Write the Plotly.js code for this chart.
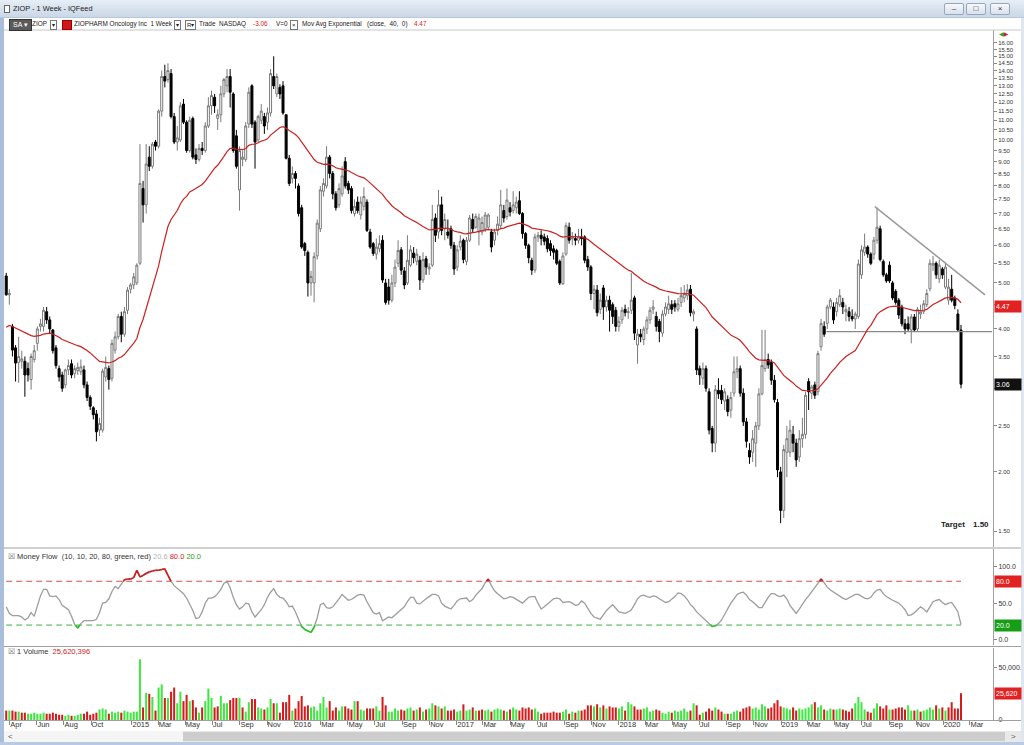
<!DOCTYPE html>
<html>
<head>
<meta charset="utf-8">
<title>ZIOP - 1 Week - IQFeed</title>
<script src="https://cdn.plot.ly/plotly-3.0.1.min.js"></script>
<style>
html,body{margin:0;padding:0;background:#fff;}
#wrap{position:relative;width:1024px;height:745px;overflow:hidden;font-family:"Liberation Sans",Arial,sans-serif;}
#chart{position:absolute;left:0;top:0;width:1024px;height:745px;}
#titlebar{position:absolute;left:0;top:0;width:1024px;height:17px;background:linear-gradient(#e7eef6,#cad7e7);border-bottom:1px solid #b8c7da;z-index:3;}
#titlebar .ttl{position:absolute;left:13px;top:0;line-height:17px;font-size:8px;color:#1a1a1a;white-space:nowrap;transform:scaleX(0.92);transform-origin:0 50%;}
#titlebar .ico{position:absolute;left:4px;top:5px;width:4px;height:6px;border:1px solid #666;background:#fff;}
.wbtn{position:absolute;top:3px;width:18px;height:10px;border:1px solid #98a8bb;border-radius:2px;background:linear-gradient(#f6f8fb,#d9e1ec);font-size:8px;line-height:10px;text-align:center;color:#333;}
#toolbar{position:absolute;left:0;top:18px;width:1024px;height:12px;z-index:3;font-size:8px;color:#1a1a1a;}
#toolbar span{position:absolute;top:0;line-height:12px;white-space:nowrap;}
#toolbar .t{transform:scaleX(0.8);transform-origin:0 50%;}
#toolbar .bx{top:2px;height:8px;line-height:8px;border:1px solid #777;background:#fff;font-size:6px;padding:0 1px;}
#toolbar .dk{top:1px;height:10px;line-height:10px;background:#5a5a5a;color:#fff;padding:0 3px;border:1px solid #333;font-size:7px;}
#toolbar .rd{color:#d42020;}
#toolbar .sq{top:2px;width:8px;height:8px;background:#d01818;border:1px solid #900;}
</style>
</head>
<body>
<div id="wrap">
  <div id="chart"></div>
  <div id="titlebar">
    <div class="ico"></div>
    <span class="ttl">ZIOP - 1 Week - IQFeed</span>
    <div class="wbtn" style="left:944px">&#8211;</div>
    <div class="wbtn" style="left:966px">&#9633;</div>
    <div class="wbtn" style="left:990px">&#215;</div>
  </div>
  <div id="toolbar">
    <span class="dk" style="left:9px">SA &#9662;</span>
    <span class="t" style="left:32px">ZIOP</span>
    <span class="bx" style="left:50px">&#9662;</span>
    <span class="sq" style="left:62px"></span>
    <span class="t" style="left:74px">ZIOPHARM Oncology Inc&nbsp; 1 Week</span>
    <span class="bx" style="left:174px">&#9662;</span>
    <span class="bx" style="left:185px">R&#9662;</span>
    <span class="t" style="left:199px">Trade&nbsp; NASDAQ</span>
    <span class="t rd" style="left:253px">-3.06</span>
    <span class="t" style="left:276px">V=0</span>
    <span class="bx" style="left:290px">&#215;</span>
    <span class="t" style="left:302px">Mov Avg Exponential</span>
    <span class="t" style="left:367px">(close,&nbsp; 40,&nbsp; 0)</span>
    <span class="t rd" style="left:414px">4.47</span>
  </div>
</div>
<script>
// ---------------- DATA ----------------
// weekly bars, first week starting Monday 2014-03-24; rows are [open, high, low, close]
const firstWeek = '2014-03-24';

const ohlc2014 = [
[5.17,5.25,4.70,4.72],[4.72,4.85,4.50,4.75],[4.05,4.10,3.50,3.61],[3.65,3.70,3.10,3.39],[3.40,3.85,3.08,3.50],
[3.42,3.60,3.30,3.46],[3.42,3.50,2.88,3.20],[3.30,3.40,3.10,3.20],[3.13,3.55,2.98,3.50],[3.45,3.70,3.40,3.60],
[3.73,4.05,3.60,4.00],[4.05,4.20,3.95,4.10],[4.05,4.45,3.95,4.38],[4.35,4.45,4.10,4.18],[4.18,4.25,3.90,4.00],
[3.98,4.00,3.55,3.60],[3.65,3.70,3.30,3.35],[3.30,3.35,3.10,3.17],[3.20,3.25,2.95,3.00],[3.05,3.30,3.00,3.28],
[3.28,3.45,3.20,3.35],[3.38,3.45,3.15,3.20],[3.22,3.35,3.15,3.30],[3.27,3.40,3.20,3.32],[3.25,3.45,3.20,3.33],
[3.28,3.35,3.00,3.05],[3.05,3.10,2.82,2.87],[2.87,2.90,2.70,2.75],[2.73,2.75,2.58,2.64],[2.65,2.70,2.32,2.43],
[2.45,2.60,2.38,2.53],[2.45,3.30,2.42,3.26],[3.17,3.50,3.10,3.32],[3.30,3.35,2.98,3.13],[3.15,3.80,3.10,3.73],
[3.61,3.95,3.55,3.85],[3.85,4.30,3.80,4.25],[4.25,4.35,3.75,3.90],[3.90,4.45,3.85,4.35],[4.38,4.90,4.30,4.83],
[4.85,5.00,4.75,4.95]
];
const ohlc2015 = [
[4.95,5.25,4.85,5.15],[5.00,5.50,4.95,5.45],[5.50,9.80,5.45,8.10],[7.90,8.20,6.70,7.30],[7.30,9.80,7.00,8.90],
[9.20,9.70,8.60,8.80],[8.80,9.90,8.70,9.80],[9.90,10.0,9.50,9.70],[9.70,11.6,9.60,11.5],[11.5,14.0,11.2,13.6],
[13.6,14.4,12.9,13.3],[13.4,14.5,13.2,14.0],[13.8,14.1,11.1,11.2],[11.2,11.4,9.80,9.90],[9.90,10.7,9.50,10.1],
[10.0,12.0,9.90,11.8],[11.9,12.2,10.8,10.9],[10.9,11.0,9.40,9.50],[9.50,11.2,9.40,11.0],[11.1,11.2,9.10,9.20],
[9.30,9.60,8.90,9.10],[9.10,9.80,9.00,9.60],[9.60,9.90,9.30,9.50],[9.50,10.9,9.40,10.7],[10.7,12.3,10.6,11.8],
[11.8,12.7,11.3,12.4],[12.3,12.5,11.4,11.8],[11.1,11.6,10.5,11.3],[11.3,13.0,10.9,12.5],[12.5,13.5,12.3,13.4],
[13.0,14.1,12.6,13.6],[13.6,14.1,11.7,12.6],[12.5,12.6,9.40,9.50],[10.2,10.5,8.70,8.80],[7.85,9.70,7.10,9.50],
[9.10,9.50,8.80,9.20],[9.10,10.9,9.00,10.7],[10.8,12.9,10.6,12.6],[13.0,13.1,10.6,10.8],[10.9,11.0,8.70,9.90],
[10.0,11.3,9.90,11.2],[11.0,11.9,10.8,11.5],[11.2,11.4,10.3,10.7],[10.9,11.7,10.5,11.4],[11.4,14.1,11.2,13.8],
[13.6,15.0,12.8,13.0],[12.5,13.8,12.3,13.6],[12.9,13.1,12.2,12.5],[13.0,13.3,11.3,11.4],[11.3,11.3,9.10,9.15],
[9.15,9.30,8.00,8.10],[8.30,8.80,8.10,8.50]
];
const ohlc2016 = [
[8.50,8.60,7.90,8.30],[8.00,8.10,6.90,7.00],[7.20,7.30,5.90,5.95],[6.05,6.10,5.70,5.85],[5.80,5.85,4.68,5.00],
[5.00,5.30,4.70,5.16],[5.00,5.80,4.55,5.68],[5.70,6.80,5.60,6.68],[6.50,8.00,6.40,7.85],[7.80,8.30,7.60,8.10],
[8.00,9.70,7.90,9.20],[9.20,9.30,8.30,8.50],[8.50,8.60,7.50,7.70],[7.70,7.80,7.10,7.20],[7.30,8.10,7.20,7.90],
[7.70,8.80,7.60,8.40],[9.00,9.20,7.90,8.00],[8.10,8.20,7.70,7.85],[7.90,8.00,7.00,7.10],[7.00,7.50,6.90,7.25],
[7.40,7.60,7.00,7.10],[6.95,7.60,6.80,7.40],[7.25,7.95,7.10,7.60],[7.40,7.50,6.40,6.45],[6.40,6.50,5.90,5.95],
[6.05,6.10,5.70,5.77],[5.75,6.20,5.60,5.95],[5.90,6.30,5.80,6.05],[6.15,6.30,5.00,5.07],[5.00,5.10,4.50,4.55],
[4.90,5.10,4.50,4.60],[4.60,5.20,4.55,5.00],[5.00,5.60,4.90,5.40],[5.50,6.15,5.40,5.85],[5.87,5.95,5.20,5.32],
[5.30,5.40,4.85,4.95],[5.00,6.30,4.95,5.58],[5.45,6.00,5.40,5.87],[5.78,5.95,5.50,5.65],[5.55,5.90,5.45,5.75],
[5.58,5.70,4.83,5.07],[5.07,5.80,5.00,5.60],[5.62,5.70,5.20,5.40],[5.35,5.50,5.20,5.40],[5.45,7.30,5.40,6.80],
[6.85,7.00,6.10,6.30],[6.40,7.85,6.20,7.30],[7.30,7.60,6.30,6.45],[6.50,7.00,6.15,6.80],[6.40,6.80,6.20,6.30],
[6.50,6.60,5.90,6.00],[6.00,6.10,5.20,5.35]
];
const ohlc2017 = [
[5.40,6.00,5.30,5.87],[5.95,6.30,5.85,6.12],[6.15,6.20,5.50,5.60],[5.55,6.25,5.45,6.15],[6.15,6.95,6.10,6.85],
[6.80,7.00,6.40,6.50],[6.55,7.00,6.50,6.90],[6.40,7.00,6.00,6.85],[6.40,6.90,6.30,6.70],[6.50,7.05,6.40,6.95],
[6.55,7.00,6.45,6.95],[6.40,6.50,5.80,5.95],[6.15,6.50,6.00,6.40],[6.45,6.90,6.30,6.65],[6.60,7.85,6.50,7.30],
[7.10,7.30,6.70,6.85],[6.90,7.90,6.80,7.47],[7.20,7.40,6.90,7.05],[7.10,7.80,7.00,7.30],[7.20,7.60,7.00,7.40],
[7.45,7.80,6.95,7.00],[7.00,7.05,6.20,6.35],[6.35,6.40,5.90,6.00],[6.00,6.05,5.50,5.65],[5.58,5.65,5.20,5.32],
[5.32,6.35,5.25,6.25],[6.25,6.40,6.10,6.30],[6.30,6.45,6.00,6.20],[6.25,6.35,6.00,6.12],[6.20,6.30,5.80,5.90],
[6.05,6.15,5.70,5.85],[5.90,6.00,5.60,5.80],[5.85,5.90,5.45,5.50],[5.55,5.60,4.95,5.00],[4.98,5.80,4.95,5.70],
[5.75,6.70,5.70,6.60],[6.55,6.70,6.05,6.15],[6.20,6.40,6.00,6.25],[6.20,6.35,6.00,6.15],[6.15,6.50,6.05,6.25],
[6.25,6.50,6.00,6.20],[6.25,6.30,5.50,5.58],[5.60,5.70,5.30,5.40],[5.40,5.45,4.60,4.75],[4.75,4.95,4.40,4.85],
[4.83,4.95,4.25,4.33],[4.40,4.75,4.30,4.60],[4.88,4.95,4.18,4.45],[4.45,4.70,4.35,4.60],[4.60,4.70,3.95,4.38],
[4.50,4.55,4.10,4.25],[4.38,4.45,3.95,4.05]
];
const ohlc2018 = [
[4.05,4.25,3.95,4.15],[4.18,4.45,4.10,4.38],[4.40,4.50,4.25,4.33],[4.33,4.45,4.20,4.35],[4.38,5.25,4.30,4.60],
[4.65,4.70,3.79,3.92],[3.70,4.00,3.38,3.90],[3.90,4.00,3.75,3.85],[3.80,4.05,3.70,4.00],[4.00,4.25,3.90,4.18],
[4.18,4.45,4.10,4.38],[4.40,4.60,4.30,4.45],[4.25,4.35,3.95,4.05],[4.15,4.20,3.75,3.95],[3.92,4.38,3.85,4.30],
[4.30,4.55,4.25,4.45],[4.40,4.70,4.30,4.52],[4.50,4.60,4.30,4.40],[4.52,4.60,4.35,4.45],[4.40,4.65,4.35,4.52],
[4.55,4.90,4.45,4.70],[4.65,4.95,4.55,4.75],[4.70,4.97,4.60,4.83],[4.85,4.95,4.25,4.33],[4.30,4.40,4.15,4.35],
[4.00,4.05,3.20,3.28],[3.30,3.35,3.05,3.20],[3.15,3.40,3.05,3.30],[3.30,3.35,2.95,3.00],[2.95,3.00,2.40,2.45],
[2.47,2.50,2.20,2.30],[2.30,3.05,2.20,2.98],[2.97,3.15,2.85,2.92],[2.97,3.05,2.78,2.84],[2.82,3.00,2.70,2.95],
[2.84,2.90,2.62,2.68],[2.70,2.95,2.60,2.87],[2.93,3.50,2.88,3.25],[3.25,3.50,3.15,3.30],[3.30,3.35,2.88,2.93],
[2.93,3.00,2.50,2.55],[2.55,2.60,2.25,2.32],[2.22,2.30,2.08,2.15],[2.20,2.45,2.10,2.35],[2.30,2.55,2.05,2.50],
[2.50,3.00,2.45,2.92],[2.92,3.98,2.90,3.35],[3.30,3.98,3.25,3.45],[3.45,3.55,3.30,3.36],[3.40,3.45,3.05,3.12],
[3.12,3.20,2.80,2.84],[2.80,2.85,1.95,2.02],[2.00,2.05,1.56,1.66]
];
const ohlc2019 = [
[1.66,2.28,1.60,2.23],[2.20,2.50,1.95,2.35],[2.20,2.57,2.15,2.45],[2.40,2.50,2.20,2.30],[2.30,2.35,2.05,2.12],
[2.15,2.45,2.10,2.35],[2.35,2.60,2.25,2.40],[2.40,2.95,2.35,2.90],[3.10,3.15,2.70,2.95],[2.93,3.05,2.85,3.02],
[3.05,3.10,2.85,2.90],[2.95,3.60,2.90,3.55],[3.67,4.20,3.60,4.11],[4.05,4.15,3.85,3.90],[4.11,4.50,4.00,4.45],
[4.45,4.65,4.40,4.60],[4.45,4.55,4.10,4.18],[4.35,4.65,4.25,4.55],[4.50,4.85,4.45,4.70],[4.55,4.65,4.30,4.45],
[4.35,4.50,4.15,4.40],[4.35,4.45,4.15,4.25],[4.25,4.40,4.15,4.20],[4.20,4.35,4.00,4.30],[4.25,5.60,4.20,5.48],
[5.20,6.00,5.10,5.87],[5.80,6.35,5.70,5.95],[5.95,6.00,5.65,5.75],[5.75,5.80,5.45,5.50],[5.75,6.25,5.60,6.15],
[6.15,7.20,6.05,6.55],[6.50,6.60,5.55,5.60],[5.55,5.60,5.15,5.20],[5.20,5.25,5.00,5.05],[5.45,5.55,5.00,5.05],
[5.00,5.05,4.60,4.65],[4.80,4.85,4.50,4.55],[4.60,4.65,4.20,4.28],[4.45,4.50,4.05,4.10],[4.10,4.20,3.90,4.00],
[4.10,4.25,3.95,4.00],[3.98,4.30,3.73,4.24],[4.24,4.30,3.95,3.98],[4.00,4.45,3.95,4.40],[4.30,4.50,4.20,4.35],
[4.35,4.60,4.30,4.52],[4.50,4.85,4.45,4.75],[4.86,5.60,4.80,5.50],[5.45,5.70,5.30,5.50],[5.50,5.55,5.10,5.20],
[5.10,5.60,5.00,5.45],[5.35,5.40,5.10,5.20]
];
const ohlc2020 = [
[4.90,5.50,4.85,5.40],[4.60,5.10,4.50,4.90],[4.85,5.20,4.55,4.60],[4.65,4.70,4.40,4.48],[4.30,4.40,3.95,3.98],
[3.98,4.08,3.00,3.06]
];

// weekly volume, millions of shares (axis is labelled in thousands)
const volumeM = [
9,9,9,8,8,7,7,6,6,7, 6,6,7,6,6,7,6,5,5,4, 5,4,4,5,6,6,8,5,6,7, 10,11,10,6,8,7,8,7,9,8,
7,8,8,58,12,26,25,22,9,31, 34,21,21,27,31,16,27,18,24,18, 19,12,7,12,18,30,21,12,13,23,
16,16,19,21,21,21,12,8,17,20, 20,12,11,10,12,20,16,16,7,17, 17,24,9,11,18,23,13,14,12,13,
9,16,22,12,18,9,12,9,13,13, 11,10,18,18,10,9,11,11,11,13, 9,22,14,8,8,11,9,10,9,11,
12,9,10,12,8,10,11,16,14,13, 11,13,9,9,10,8,9,15,9,10, 12,9,9,10,9,10,8,10,11,10,
9,8,10,12,10,9,12,11,12,10, 11,8,6,7,7,7,8,7,7,8, 10,6,8,7,9,9,10,14,14,13,
15,12,14,11,13,12,12,11,13,9, 17,15,13,10,10,11,12,8,9,10, 9,7,6,8,7,9,8,9,11,8,
9,16,14,5,7,8,11,9,12,10, 8,6,6,6,8,9,8,11,12,13, 11,12,10,15,13,11,12,16,19,13,
12,11,10,12,9,11,10,11,12,15, 17,12,14,10,9,11,10,10,11,10, 9,8,11,16,22,17,10,8,7,11,
16,13,11,14,10,10,11,12,12,10, 14,9,9,10,8,9,10,12,10,14, 11,12,9,12,17,11,11,25.62
];

// Money Flow indicator (10,10,20,80)
const moneyFlow = [
45,36,33,33,33,31,27,30,37,32, 45,60,69,69,60,59,60,55,47,44, 41,32,21,16,22,26,26,26,26,28,
37,50,51,56,66,73,70,76,82,83, 83,85,95,86,88,91,93,94,95,95, 96,97,88,80,74,70,67,63,57,49,
40,29,30,38,50,57,57,59,63,69, 77,80,71,58,48,42,45,50,49,38, 31,36,41,48,58,65,70,62,58,57,
52,45,46,38,28,18,14,12,10,17, 30,48,50,44,43,45,50,56,62,58, 54,55,58,61,62,61,52,44,37,35,
37,26,29,31,30,34,38,42,45,52, 58,58,50,49,53,56,59,62,62,60, 50,46,44,42,47,53,56,57,57,52,
55,61,65,70,78,83,74,67,63,59, 56,57,59,58,55,53,50,54,58,59, 59,50,42,45,49,53,56,57,56,51,
51,52,50,47,48,53,50,42,36,31, 29,28,34,40,44,48,43,38,37,36, 38,41,48,56,60,61,59,58,60,59,
56,54,51,52,55,59,64,63,60,55, 48,44,38,34,30,26,22,18,19,22, 27,35,43,50,56,62,64,65,61,55,
52,48,44,44,52,58,63,63,60,59, 61,56,47,41,36,42,49,55,60,66, 72,77,83,78,72,68,65,62,59,57,
55,57,59,62,62,59,57,56,58,64, 68,69,63,59,56,54,52,50,46,41, 33,34,37,41,45,42,38,45,52,54,
55,51,48,50,51,45,38,20.6
];

const emaPeriod = 40;          // Mov Avg Exponential (close, 40, 0)
const emaSeed = 4.0;           // EMA level at the left edge of the chart
const emaLastLabel = '4.47';
const lastPriceLabel = '3.06';
const mfiUpper = 80, mfiLower = 20;
const lastVolumeLabel = '25,620';
const volumeHeader = '25,620,396';
const targetPrice = 1.50;
const supportLevel = 3.95;
const supportDates = ['2019-04-13', '2020-04-20'];
const trendDates = ['2019-07-31', '2020-04-04'];
const trendPrices = [7.24, 4.72];

const xTickDates = ['2014-04-01','2014-06-01','2014-08-01','2014-10-01',
 '2015-01-01','2015-03-01','2015-05-01','2015-07-01','2015-09-01','2015-11-01',
 '2016-01-01','2016-03-01','2016-05-01','2016-07-01','2016-09-01','2016-11-01',
 '2017-01-01','2017-03-01','2017-05-01','2017-07-01','2017-09-01','2017-11-01',
 '2018-01-01','2018-03-01','2018-05-01','2018-07-01','2018-09-01','2018-11-01',
 '2019-01-01','2019-03-01','2019-05-01','2019-07-01','2019-09-01','2019-11-01',
 '2020-01-01','2020-03-01'];
const xTickLabels = ['Apr','Jun','Aug','Oct',
 '2015','Mar','May','Jul','Sep','Nov',
 '2016','Mar','May','Jul','Sep','Nov',
 '2017','Mar','May','Jul','Sep','Nov',
 '2018','Mar','May','Jul','Sep','Nov',
 '2019','Mar','May','Jul','Sep','Nov',
 '2020','Mar'];
// price levels with a tick; the ones hidden behind the value tags carry no label
const priceTickVals = [1.5,2,2.5,3,3.5,4,4.5,5,5.5,6,6.5,7,7.5,8,8.5,9,9.5,10,10.5,11,11.5,12,12.5,13,13.5,14,14.5,15,15.5,16];
const priceTickLabels = ['1.50','2.00','2.50','','3.50','4.00','','5.00','5.50','6.00','6.50',
 '7.00','7.50','8.00','8.50','9.00','9.50','10.00','10.50','11.00','11.50','12.00','12.50','13.00',
 '13.50','14.00','14.50','15.00','15.50','16.00'];
const mfiTickVals = [0, 50, 100];
const mfiTickLabels = ['0.0','50.0','100.0'];
const volTickVals = [0, 50];
const volTickLabels = ['0','50,000.'];
const xRange = ['2014-03-19', '2020-04-22'];
const priceRange = [1.39, 17.04];
const mfiRange = [-7.3, 124.2];
const volRange = [0, 68.8];

// ---------------- BUILD ----------------
const FONT = '"Liberation Sans", Arial, sans-serif';
const ohlc = [].concat(ohlc2014, ohlc2015, ohlc2016, ohlc2017, ohlc2018, ohlc2019, ohlc2020);
const open = ohlc.map(r => r[0]), high = ohlc.map(r => r[1]), low = ohlc.map(r => r[2]), close = ohlc.map(r => r[3]);
const N = close.length;
const DAY = 86400000;
const t0 = Date.parse(firstWeek + 'T00:00:00Z');
const fmt = ms => new Date(ms).toISOString().slice(0, 19).replace('T', ' ');
const weekMs = close.map((_, i) => t0 + i * 7 * DAY);
const dates = weekMs.map(fmt);

const kEma = 2 / (emaPeriod + 1);
let prevEma = emaSeed;
const ema = close.map(c => (prevEma = prevEma + kEma * (c - prevEma)));

const volColors = close.map((c, i) => (i === 0 ? c >= open[0] : c >= close[i - 1]) ? '#3ee83e' : '#d41c1c');

function zone(level, above) {
  const xs = [], ys = [];
  for (let i = 0; i < N - 1; i++) {
    const a = moneyFlow[i], b = moneyFlow[i + 1];
    const inA = above ? a >= level : a <= level;
    const inB = above ? b >= level : b <= level;
    if (!inA && !inB) continue;
    const tA = inA ? 0 : (level - a) / (b - a);
    const tB = inB ? 1 : (level - a) / (b - a);
    const span = weekMs[i + 1] - weekMs[i];
    xs.push(fmt(weekMs[i] + tA * span), fmt(weekMs[i] + tB * span), null);
    ys.push(a + tA * (b - a), a + tB * (b - a), null);
  }
  return { xs, ys };
}
const redZone = zone(mfiUpper, true);
const greenZone = zone(mfiLower, false);

const px = x => x / 1024;
const py = y => 1 - y / 745;

const traces = [
  { type: 'bar', x: dates, y: volumeM, xaxis: 'x', yaxis: 'y3', marker: { color: volColors, line: { width: 0 } }, hoverinfo: 'skip' },
  { type: 'scatter', mode: 'lines', x: [dates[0], dates[N - 1]], y: [mfiUpper, mfiUpper], xaxis: 'x', yaxis: 'y2', line: { color: '#d25050', width: 1, dash: '6px,4px' }, hoverinfo: 'skip' },
  { type: 'scatter', mode: 'lines', x: [dates[0], dates[N - 1]], y: [mfiLower, mfiLower], xaxis: 'x', yaxis: 'y2', line: { color: '#3cb043', width: 1, dash: '6px,4px' }, hoverinfo: 'skip' },
  { type: 'scatter', mode: 'lines', x: dates, y: moneyFlow, xaxis: 'x', yaxis: 'y2', line: { color: '#9d9d9d', width: 1.3 }, hoverinfo: 'skip' },
  { type: 'scatter', mode: 'lines', x: redZone.xs, y: redZone.ys, xaxis: 'x', yaxis: 'y2', connectgaps: false, line: { color: '#d01818', width: 1.6 }, hoverinfo: 'skip' },
  { type: 'scatter', mode: 'lines', x: greenZone.xs, y: greenZone.ys, xaxis: 'x', yaxis: 'y2', connectgaps: false, line: { color: '#22c822', width: 1.6 }, hoverinfo: 'skip' },
  { type: 'scatter', mode: 'lines', x: supportDates, y: [supportLevel, supportLevel], xaxis: 'x', yaxis: 'y', line: { color: '#8a8a8a', width: 1.2 }, hoverinfo: 'skip' },
  { type: 'scatter', mode: 'lines', x: trendDates, y: trendPrices, xaxis: 'x', yaxis: 'y', line: { color: '#9a9a9a', width: 1.5 }, hoverinfo: 'skip' },
  { type: 'candlestick', x: dates, open: open, high: high, low: low, close: close, xaxis: 'x', yaxis: 'y',
    increasing: { line: { color: '#7a7a7a', width: 1 }, fillcolor: '#ffffff' },
    decreasing: { line: { color: '#000000', width: 1 }, fillcolor: '#000000' },
    whiskerwidth: 0, hoverinfo: 'none' },
  { type: 'scatter', mode: 'lines', x: dates, y: ema, xaxis: 'x', yaxis: 'y', line: { color: '#cc2020', width: 1.2 }, hoverinfo: 'skip' }
];

const tickFont = { size: 7, color: '#333', family: FONT };
function tag(text, yref, y, bg) {
  return { xref: 'paper', x: px(994), xanchor: 'left', yref: yref, y: y, yanchor: 'middle', text: text,
    showarrow: false, bgcolor: bg, font: { color: '#fff', size: 7, family: FONT }, borderpad: 1, width: 24, height: 9, align: 'left' };
}
const annotations = [
  tag(emaLastLabel, 'y', Math.log10(parseFloat(emaLastLabel)), '#e02222'),
  tag(lastPriceLabel, 'y', Math.log10(parseFloat(lastPriceLabel)), '#111111'),
  tag(mfiUpper.toFixed(1), 'y2', mfiUpper, '#e02222'),
  tag(mfiLower.toFixed(1), 'y2', mfiLower, '#169e16'),
  tag(lastVolumeLabel, 'y3', volumeM[N - 1], '#e02222'),
  { xref: 'paper', x: px(953), xanchor: 'center', yref: 'y', y: Math.log10(targetPrice), yanchor: 'bottom', text: '<b>Target</b>', showarrow: false, font: { size: 8, color: '#222', family: FONT } },
  { xref: 'paper', x: px(991), xanchor: 'right', yref: 'y', y: Math.log10(targetPrice), yanchor: 'bottom', text: '<b>' + targetPrice.toFixed(2) + '</b>', showarrow: false, font: { size: 8, color: '#222', family: FONT } },
  { xref: 'paper', x: px(6), xanchor: 'left', yref: 'paper', y: py(556), yanchor: 'middle', showarrow: false, font: { size: 7.5, color: '#333', family: FONT },
    text: '<span style="color:#777">☒</span> Money Flow  (10, 10, 20, 80, green, red) <span style="color:#b4b4b4">' + moneyFlow[N - 1].toFixed(1) + '</span> <span style="color:#d42020">' + mfiUpper.toFixed(1) + '</span> <span style="color:#1e9e1e">' + mfiLower.toFixed(1) + '</span>' },
  { xref: 'paper', x: px(6), xanchor: 'left', yref: 'paper', y: py(651), yanchor: 'middle', showarrow: false, font: { size: 7.5, color: '#333', family: FONT },
    text: '<span style="color:#777">☒</span> 1 Volume  <span style="color:#d42020">' + volumeHeader + '</span>' },
  { xref: 'paper', x: px(1004), xanchor: 'center', yref: 'paper', y: py(34), yanchor: 'middle', showarrow: false, font: { size: 6, family: 'DejaVu Sans' },
    text: '<span style="color:#2a9d2a">◀</span><span style="color:#d42020">▶</span>' },
  { xref: 'paper', x: px(10), xanchor: 'center', yref: 'paper', y: py(736.5), yanchor: 'middle', showarrow: false, text: '&lt;', font: { size: 8, color: '#555', family: FONT } },
  { xref: 'paper', x: px(1013), xanchor: 'center', yref: 'paper', y: py(736.5), yanchor: 'middle', showarrow: false, text: '&gt;', font: { size: 8, color: '#555', family: FONT } }
];

const hline = (y, color) => ({ type: 'line', xref: 'paper', yref: 'paper', x0: px(4), x1: px(1021), y0: py(y), y1: py(y), line: { color: color, width: 1 } });
const rect = (x0, y0, x1, y1, fill) => ({ type: 'rect', xref: 'paper', yref: 'paper', x0: px(x0), x1: px(x1), y0: py(y1), y1: py(y0), fillcolor: fill, line: { width: 0 }, layer: 'above' });
const shapes = [
  hline(30, '#c8c8c8'),
  hline(548, '#a0a0a0'),
  hline(646.5, '#a0a0a0'),
  hline(720.5, '#a0a0a0'),
  { type: 'line', xref: 'paper', yref: 'y', x0: px(4), x1: px(993), y0: Math.log10(targetPrice), y1: Math.log10(targetPrice), line: { color: '#8a8a8a', width: 1, dash: 'dot' } },
  rect(4, 731, 1021, 742, '#e9e9e9'),
  rect(4, 731, 183, 742, '#f5f5f5'),
  rect(183, 732, 1005, 741, '#cdcdcd'),
  rect(0, 17, 4, 745, '#a9bedb'),
  rect(1021, 17, 1024, 745, '#dfe6f0'),
  rect(0, 742, 1024, 745, '#b9cbe2')
];

const yBase = { side: 'right', anchor: 'x', ticks: 'outside', ticklen: 3, tickcolor: '#888', tickfont: tickFont,
  showline: true, linecolor: '#a0a0a0', linewidth: 1, showgrid: false, zeroline: false, fixedrange: true, tickmode: 'array' };

const layout = {
  width: 1024, height: 745, margin: { l: 0, r: 0, t: 0, b: 0 },
  paper_bgcolor: '#ffffff', plot_bgcolor: '#ffffff', showlegend: false, hovermode: false,
  boxgap: 0.2, boxgroupgap: 0.2, bargap: 0.35,
  font: { family: FONT, size: 8, color: '#333' },
  xaxis: { type: 'date', domain: [px(4), px(993)], range: xRange, anchor: 'y3', tickmode: 'array',
    tickvals: xTickDates, ticktext: xTickLabels, ticks: 'outside', ticklen: 4, tickcolor: '#888',
    ticklabelposition: 'outside right', ticklabelstandoff: -3, tickfont: { size: 7.5, color: '#333', family: FONT },
    showgrid: false, zeroline: false, showline: false, fixedrange: true, rangeslider: { visible: false } },
  yaxis: Object.assign({}, yBase, { type: 'log', domain: [py(547), py(30)],
    range: [Math.log10(priceRange[0]), Math.log10(priceRange[1])],
    tickvals: priceTickVals, ticktext: priceTickLabels, tickfont: { size: 6, color: '#333', family: FONT } }),
  yaxis2: Object.assign({}, yBase, { domain: [py(645), py(549)], range: mfiRange,
    tickvals: mfiTickVals, ticktext: mfiTickLabels }),
  yaxis3: Object.assign({}, yBase, { domain: [py(720), py(648)], range: volRange,
    tickvals: volTickVals, ticktext: volTickLabels }),
  shapes: shapes,
  annotations: annotations
};

Plotly.newPlot('chart', traces, layout, { displayModeBar: false, staticPlot: true });
</script>
</body>
</html>
